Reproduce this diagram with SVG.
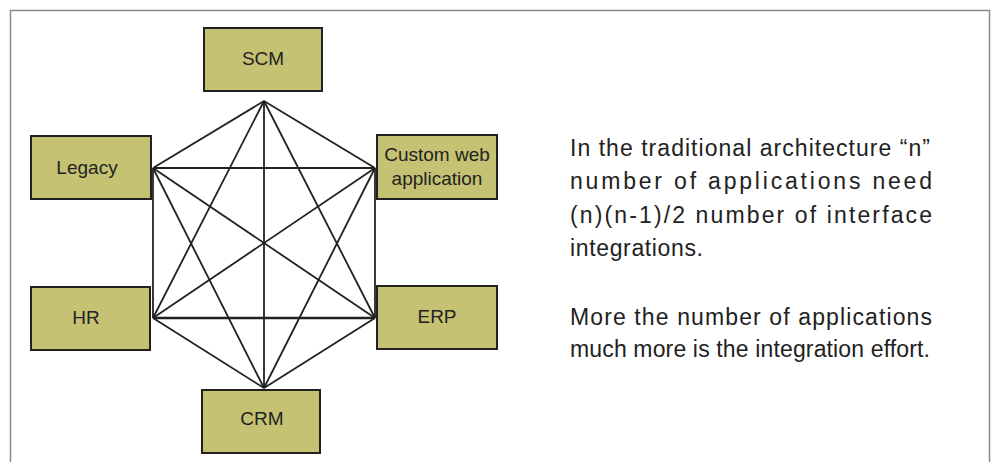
<svg xmlns="http://www.w3.org/2000/svg" width="994" height="462" viewBox="0 0 994 462">
<style>
.box{fill:#c5c273;stroke:#222;stroke-width:2}
.lbl{font-family:"Liberation Sans",Arial,sans-serif;font-size:19px;fill:#222;text-anchor:middle}
.txt{font-family:"Liberation Sans",Arial,sans-serif;font-size:23px;fill:#222}
.edge{stroke:#222;stroke-width:1.8;fill:none}
</style>
<rect x="0" y="0" width="994" height="462" fill="#fff"/>
<path d="M10.5,470 V10.5 H989.5 V470" fill="none" stroke="#8a8a8a" stroke-width="1.5"/>
<g id="connectors" class="edge">
<line x1="264" y1="101" x2="153" y2="168"/>
<line x1="264" y1="101" x2="375" y2="168"/>
<line x1="264" y1="101" x2="153" y2="318"/>
<line x1="264" y1="101" x2="375" y2="318"/>
<line x1="264" y1="101" x2="264" y2="388"/>
<line x1="153" y1="168" x2="375" y2="168"/>
<line x1="153" y1="168" x2="153" y2="318"/>
<line x1="153" y1="168" x2="375" y2="318"/>
<line x1="153" y1="168" x2="264" y2="388"/>
<line x1="375" y1="168" x2="153" y2="318"/>
<line x1="375" y1="168" x2="375" y2="318"/>
<line x1="375" y1="168" x2="264" y2="388"/>
<line x1="153" y1="318" x2="375" y2="318" stroke-width="2.6"/>
<line x1="153" y1="318" x2="264" y2="388"/>
<line x1="375" y1="318" x2="264" y2="388"/>
</g>
<g id="scm"><rect class="box" x="204" y="28" width="118" height="63"/><text class="lbl" x="263" y="65">SCM</text></g>
<g id="legacy"><rect class="box" x="31" y="136" width="120" height="63"/><text class="lbl" x="87" y="174">Legacy</text></g>
<g id="custom"><rect class="box" x="377" y="135" width="120" height="64"/><text class="lbl" x="437" y="161">Custom web</text><text class="lbl" x="437" y="185">application</text></g>
<g id="hr"><rect class="box" x="31" y="287" width="119" height="63"/><text class="lbl" x="86" y="324">HR</text></g>
<g id="erp"><rect class="box" x="377" y="286" width="120" height="63"/><text class="lbl" x="437" y="323">ERP</text></g>
<g id="crm"><rect class="box" x="202" y="390" width="118" height="63"/><text class="lbl" x="262" y="425">CRM</text></g>
<g id="description">
<text class="txt" x="570" y="156" textLength="360" lengthAdjust="spacing">In the traditional architecture “n”</text>
<text class="txt" x="570" y="189" textLength="362" lengthAdjust="spacing">number of applications need</text>
<text class="txt" x="570" y="223" textLength="362" lengthAdjust="spacing">(n)(n-1)/2 number of interface</text>
<text class="txt" x="570" y="256" textLength="133" lengthAdjust="spacing">integrations.</text>
<text class="txt" x="570" y="325" textLength="362" lengthAdjust="spacing">More the number of applications</text>
<text class="txt" x="570" y="357" textLength="360" lengthAdjust="spacing">much more is the integration effort.</text>
</g>
</svg>
